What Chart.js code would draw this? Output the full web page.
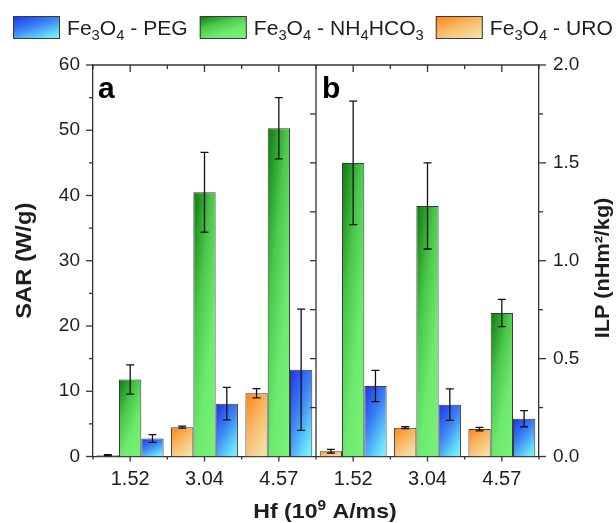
<!DOCTYPE html>
<html><head><meta charset="utf-8">
<script src="https://cdn.jsdelivr.net/npm/chart.js@4.4.0/dist/chart.umd.min.js"></script>
<style>html,body{margin:0;padding:0;background:#fff;}canvas{display:block;}</style>
</head><body>
<canvas id="c" width="616" height="523"></canvas>
<script>
// ---------------- data ----------------
const categories = ['1.52', '3.04', '4.57'];
// panel a : SAR (W/g)
const sarURO = [0.2, 4.5, 9.7];
const sarUROErr = [0.08, 0.15, 0.7];
const sarNH4 = [11.8, 40.5, 50.3];
const sarNH4Err = [2.25, 6.1, 4.7];
const sarPEG = [2.75, 8.1, 13.3];
const sarPEGErr = [0.6, 2.5, 9.3];
// panel b : ILP (nHm2/kg)
const ilpURO = [0.027, 0.147, 0.140];
const ilpUROErr = [0.009, 0.005, 0.009];
const ilpNH4 = [1.50, 1.28, 0.733];
const ilpNH4Err = [0.315, 0.22, 0.07];
const ilpPEG = [0.36, 0.265, 0.193];
const ilpPEGErr = [0.08, 0.08, 0.041];
// axis ranges / tick steps
const sarRange = [0, 60], sarStep = 10, sarMinor = 5;
const ilpRange = [0, 2], ilpStep = 0.5, ilpMinor = 0.25;

// ---------------- styling ----------------
const FONT = '"Liberation Sans", Arial, Helvetica, sans-serif';
const INK = '#1e1e1e';
const AXIS = '#333333';
const COLS = {
  URO: [[0, '#ff8210'], [0.45, '#f9b866'], [0.85, '#f5dca0'], [1, '#f3e8a4']],
  NH4: [[0, '#0d780d'], [0.35, '#4bc84b'], [0.65, '#6eea6e'], [1, '#76f476']],
  PEG: [[0, '#1c30ee'], [0.45, '#3d86f5'], [0.85, '#6ae6fa'], [1, '#78f8fc']]
};

// both panels share one category axis: panel a = first three slots, panel b = last three
const allLabels = categories.concat(categories);
const nulls = categories.map(() => null);
const panelA = (arr) => arr.concat(nulls);
const panelB = (arr) => nulls.concat(arr);

function makeGrad(ctx, x0, y0, w, h, stops) {
  if (!(w > 0) || !(h > 0)) return stops[stops.length - 1][1];
  const a = 0.4, b = 0.6;
  const k = 1 / (a * a / (w * w) + b * b / (h * h));
  const g = ctx.createLinearGradient(x0, y0, x0 + k * a / w, y0 + k * b / h);
  stops.forEach(s => g.addColorStop(s[0], s[1]));
  return g;
}
function barFill(stops) {
  return (c) => {
    const el = c.element;
    if (!el || !Number.isFinite(el.x) || !Number.isFinite(el.y) || !Number.isFinite(el.base)) return stops[stops.length - 1][1];
    const top = Math.min(el.y, el.base), h = Math.abs(el.base - el.y);
    return makeGrad(c.chart.ctx, el.x - el.width / 2, top, el.width, h, stops);
  };
}
function ds(label, data, errors, stops, yid) {
  return {
    label, data, errors, yAxisID: yid, xAxisID: 'x',
    backgroundColor: barFill(stops), borderColor: '#3a3a3a', borderWidth: 1,
    barPercentage: 1, categoryPercentage: 0.9, skipNull: true
  };
}

function drawRich(ctx, parts, x, y, o) {
  ctx.save();
  ctx.translate(x, y);
  if (o.rotate) ctx.rotate(o.rotate);
  ctx.scale(o.sx || 1, 1);
  const fontOf = (p) => (o.weight || '') + ' ' + (p[1] ? o.small : o.size) + 'px ' + FONT;
  let total = 0;
  const ws = parts.map(p => { ctx.font = fontOf(p); const w = ctx.measureText(p[0]).width; total += w; return w; });
  let cx = o.align === 'center' ? -total / 2 : 0;
  ctx.fillStyle = INK; ctx.textAlign = 'left'; ctx.textBaseline = o.baseline || 'alphabetic';
  parts.forEach((p, i) => {
    ctx.font = fontOf(p);
    const dy = p[1] === 1 ? o.subDy : (p[1] === 2 ? o.supDy : 0);
    ctx.fillText(p[0], cx, dy);
    cx += ws[i];
  });
  ctx.restore();
  return total * (o.sx || 1);
}

const legendItems = [
  { stops: COLS.PEG, parts: [['Fe', 0], ['3', 1], ['O', 0], ['4', 1], [' - PEG', 0]] },
  { stops: COLS.NH4, parts: [['Fe', 0], ['3', 1], ['O', 0], ['4', 1], [' - NH', 0], ['4', 1], ['HCO', 0], ['3', 1]] },
  { stops: COLS.URO, parts: [['Fe', 0], ['3', 1], ['O', 0], ['4', 1], [' - URO', 0]] }
];

const decor = {
  id: 'decor',
  afterDatasetsDraw(chart) {
    const ctx = chart.ctx;
    ctx.save();
    ctx.strokeStyle = '#111'; ctx.lineWidth = 1.3;
    chart.data.datasets.forEach((d, di) => {
      const meta = chart.getDatasetMeta(di);
      const ys = chart.scales[d.yAxisID];
      meta.data.forEach((el, i) => {
        const v = d.data[i], e = d.errors[i];
        if (v === null || v === undefined) return;
        const yt = ys.getPixelForValue(v + e), yb = ys.getPixelForValue(v - e);
        const x = el.x;
        ctx.beginPath();
        ctx.moveTo(x, yt); ctx.lineTo(x, yb);
        ctx.moveTo(x - 4, yt); ctx.lineTo(x + 4, yt);
        ctx.moveTo(x - 4, yb); ctx.lineTo(x + 4, yb);
        ctx.stroke();
      });
    });
    ctx.restore();
  },
  afterDraw(chart) {
    const ctx = chart.ctx, A = chart.chartArea;
    const ys = chart.scales.ySAR, yi = chart.scales.yILP, xs = chart.scales.x;
    ctx.save();
    ctx.strokeStyle = AXIS; ctx.lineWidth = 1.3;
    const line = (x1, y1, x2, y2) => { ctx.beginPath(); ctx.moveTo(x1, y1); ctx.lineTo(x2, y2); ctx.stroke(); };
    const c = allLabels.map((_, i) => xs.getPixelForValue(i));
    const bnd = [A.left];
    for (let i = 0; i < c.length - 1; i++) bnd.push((c[i] + c[i + 1]) / 2);
    bnd.push(A.right);
    const mid = bnd[categories.length];
    line(A.left, A.top, A.right, A.top);
    line(mid, A.top, mid, A.bottom);
    for (let v = sarRange[0]; v <= sarRange[1] + 1e-9; v += sarMinor) {
      const y = ys.getPixelForValue(v);
      const len = Math.abs(v / sarStep - Math.round(v / sarStep)) < 1e-6 ? 7 : 4;
      line(A.left - len, y, A.left, y);
    }
    for (let v = ilpRange[0]; v <= ilpRange[1] + 1e-9; v += ilpMinor) {
      const y = yi.getPixelForValue(v);
      const len = Math.abs(v / ilpStep - Math.round(v / ilpStep)) < 1e-6 ? 7 : 4;
      line(A.right, y, A.right + len, y);
      if (v > 0 && v < ilpRange[1]) line(mid - 6, y, mid, y);
    }
    c.forEach(x => { line(x, A.top, x, A.top + 7); line(x, A.bottom, x, A.bottom + 5); });
    bnd.forEach(x => { line(x, A.top, x, A.top + 4); line(x, A.bottom, x, A.bottom + 3); });
    ctx.restore();

    // panel letters
    ctx.save();
    ctx.fillStyle = '#000'; ctx.font = 'bold 30px ' + FONT; ctx.textBaseline = 'alphabetic';
    ctx.fillText('a', A.left + 5, A.top + 33);
    ctx.fillText('b', mid + 6, A.top + 33);
    ctx.restore();

    // axis titles
    drawRich(ctx, [['SAR (W/g)', 0]], 25, (A.top + A.bottom) / 2, { size: 22, weight: 'bold', sx: 1.08, align: 'center', rotate: -Math.PI / 2, baseline: 'middle' });
    drawRich(ctx, [['ILP (nHm²/kg)', 0]], 603, 268, { size: 21, weight: 'bold', sx: 1.03, align: 'center', rotate: -Math.PI / 2, baseline: 'middle' });
    drawRich(ctx, [['Hf (10', 0], ['9', 2], [' A/ms)', 0]], 325, 518, { size: 21, small: 14, weight: 'bold', sx: 1.1, align: 'center', supDy: -8 });

    // legend
    let x = 13;
    legendItems.forEach(it => {
      const g = makeGrad(ctx, x, 16, 47, 23, it.stops);
      ctx.save();
      ctx.fillStyle = g; ctx.fillRect(x, 16, 47, 23);
      ctx.strokeStyle = '#3a3a3a'; ctx.lineWidth = 1; ctx.strokeRect(x + 0.5, 16.5, 46, 22);
      ctx.restore();
      x += 47 + 7;
      const w = drawRich(ctx, it.parts, x, 35, { size: 20, small: 14, sx: 1.055, subDy: 4.5 });
      x += w + 12;
    });
  }
};

const chart = new Chart(document.getElementById('c'), {
  type: 'bar',
  data: {
    labels: allLabels,
    datasets: [
      ds('Fe3O4 - URO', panelA(sarURO), panelA(sarUROErr), COLS.URO, 'ySAR'),
      ds('Fe3O4 - NH4HCO3', panelA(sarNH4), panelA(sarNH4Err), COLS.NH4, 'ySAR'),
      ds('Fe3O4 - PEG', panelA(sarPEG), panelA(sarPEGErr), COLS.PEG, 'ySAR'),
      ds('Fe3O4 - URO', panelB(ilpURO), panelB(ilpUROErr), COLS.URO, 'yILP'),
      ds('Fe3O4 - NH4HCO3', panelB(ilpNH4), panelB(ilpNH4Err), COLS.NH4, 'yILP'),
      ds('Fe3O4 - PEG', panelB(ilpPEG), panelB(ilpPEGErr), COLS.PEG, 'yILP')
    ]
  },
  options: {
    responsive: false, animation: false, devicePixelRatio: 1,
    layout: { padding: { top: 65, left: 0, right: 0, bottom: 0 } },
    plugins: { legend: { display: false }, tooltip: { enabled: false }, title: { display: false } },
    scales: {
      x: {
        type: 'category', position: 'bottom', offset: true,
        grid: { display: false, drawTicks: false },
        border: { display: true, color: AXIS, width: 1.3 },
        ticks: { font: { family: FONT, size: 20 }, color: INK, padding: 11, maxRotation: 0, autoSkip: false },
        afterFit: (s) => { s.height = 66.5; }
      },
      ySAR: {
        type: 'linear', position: 'left', min: sarRange[0], max: sarRange[1],
        grid: { display: false, drawTicks: false },
        border: { display: true, color: AXIS, width: 1.3 },
        ticks: { stepSize: sarStep, font: { family: FONT, size: 19 }, color: INK, padding: 13 },
        afterFit: (s) => { s.width = 93; }
      },
      yILP: {
        type: 'linear', position: 'right', min: ilpRange[0], max: ilpRange[1],
        grid: { display: false, drawTicks: false },
        border: { display: true, color: AXIS, width: 1.3 },
        ticks: { stepSize: ilpStep, font: { family: FONT, size: 19 }, color: INK, padding: 14, callback: (v) => Number(v).toFixed(1) },
        afterFit: (s) => { s.width = 77; }
      }
    }
  },
  plugins: [decor]
});
chart.update('none');
</script>
</body></html>
